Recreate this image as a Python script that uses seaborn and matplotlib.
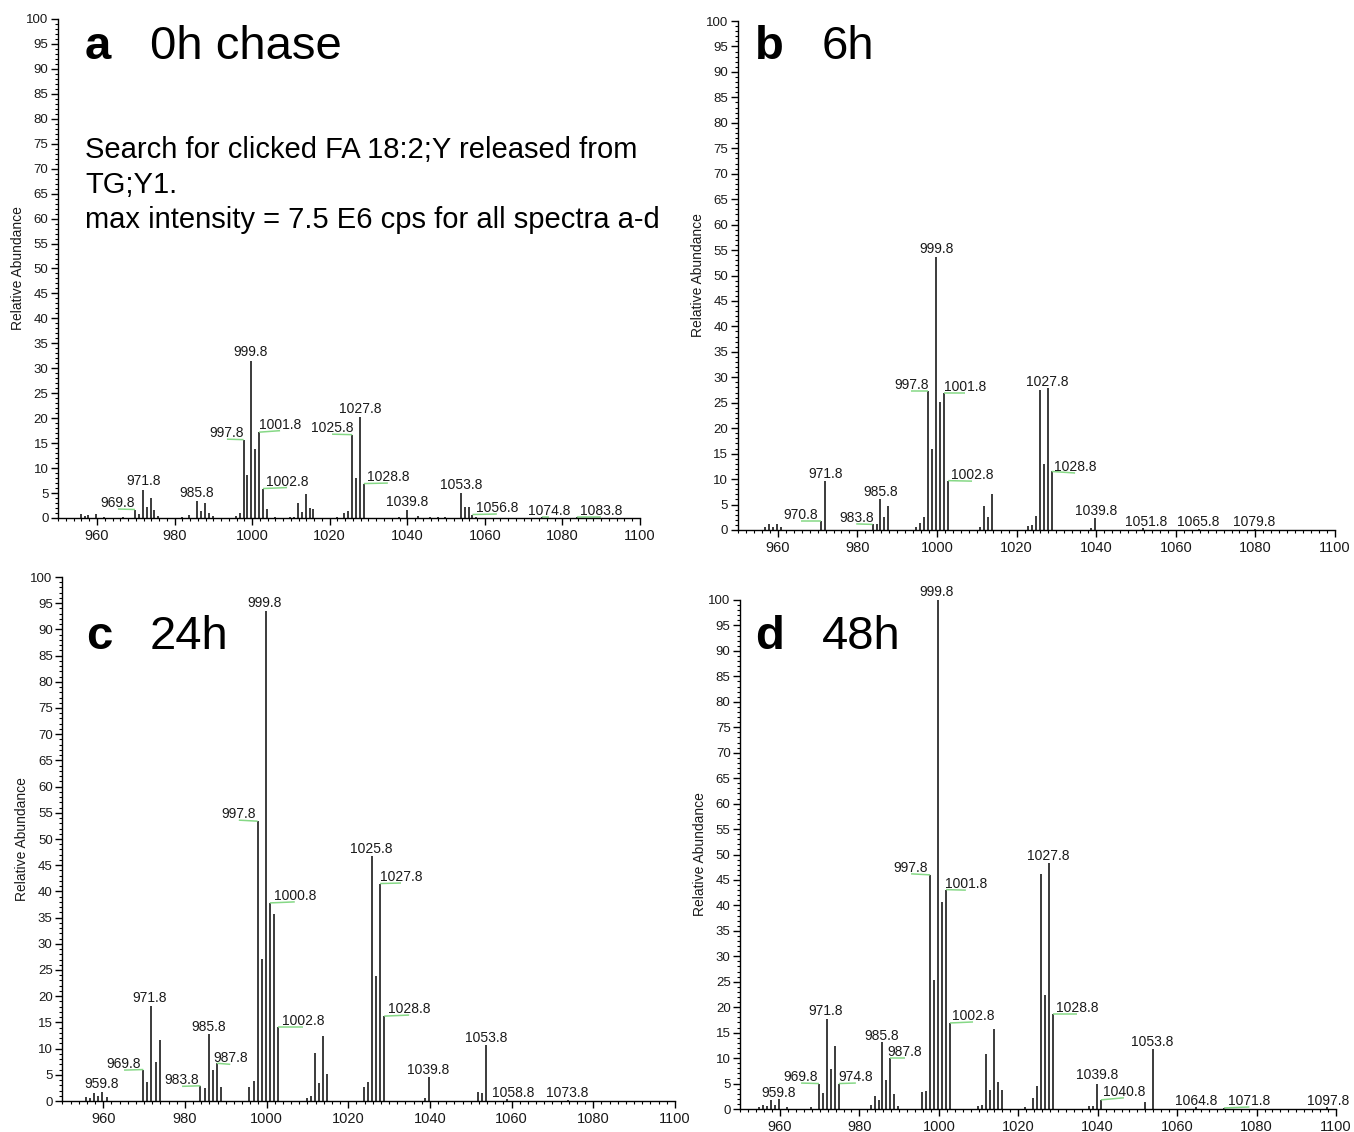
import matplotlib
matplotlib.use("Agg")
import matplotlib.pyplot as plt
from matplotlib.ticker import MultipleLocator
import seaborn as sns

sns.set_theme(style="ticks")
plt.rcParams["font.family"] = ["Liberation Sans", "DejaVu Sans"]

# ---------------- spectra (m/z, relative abundance %) ----------------
mz_a = [955.8, 956.8, 957.8, 959.8, 961.8, 966.8, 969.8, 970.8, 971.8, 972.8,
        973.8, 974.8, 975.8, 981.8, 983.8, 985.8, 986.8, 987.8, 988.8, 989.8,
        995.8, 996.8, 997.8, 998.8, 999.8, 1000.8, 1001.8, 1002.8, 1003.8, 1005.8,
        1009.8, 1010.8, 1011.8, 1012.8, 1013.8, 1014.8, 1015.8, 1021.8, 1023.8, 1024.8,
        1025.8, 1026.8, 1027.8, 1028.8, 1037.8, 1039.8, 1042.8, 1045.8, 1047.8, 1049.8,
        1053.8, 1054.8, 1055.8, 1056.8, 1057.8, 1074.8, 1083.8]
int_a = [0.8, 0.4, 0.6, 0.8, 0.3, 0.3, 1.7, 0.9, 5.7, 2.3,
         4.0, 1.6, 0.5, 0.3, 0.7, 3.5, 1.5, 3.0, 1.1, 0.5,
         0.5, 1.0, 15.7, 8.7, 31.5, 13.8, 17.2, 5.9, 1.8, 0.3,
         0.2, 0.3, 3.0, 1.3, 4.9, 2.1, 1.8, 0.3, 1.1, 1.4,
         16.7, 8.0, 20.2, 6.9, 0.3, 1.7, 0.5, 0.3, 0.3, 0.3,
         5.0, 2.3, 2.2, 0.7, 0.3, 0.3, 0.3]

mz_b = [956.8, 957.8, 958.8, 959.8, 960.8, 970.8, 971.8, 983.8, 984.8, 985.8,
        986.8, 987.8, 994.8, 995.8, 996.8, 997.8, 998.8, 999.8, 1000.8, 1001.8,
        1002.8, 1010.8, 1011.8, 1012.8, 1013.8, 1022.8, 1023.8, 1024.8, 1025.8, 1026.8,
        1027.8, 1028.8, 1038.8, 1039.8, 1051.8, 1065.8, 1079.8]
int_b = [0.5, 1.1, 0.5, 1.2, 0.5, 1.8, 9.7, 1.1, 1.2, 6.1,
         2.6, 4.8, 0.5, 1.4, 2.5, 27.3, 16.0, 53.6, 25.2, 27.0,
         9.7, 0.5, 4.8, 2.5, 7.0, 0.8, 1.0, 2.8, 27.6, 12.9,
         27.8, 11.5, 0.3, 2.4, 0.3, 0.2, 0.2]

mz_c = [955.8, 956.8, 957.8, 958.8, 959.8, 960.8, 969.8, 970.8, 971.8, 972.8,
        973.8, 983.8, 984.8, 985.8, 986.8, 987.8, 988.8, 995.8, 996.8, 997.8,
        998.8, 999.8, 1000.8, 1001.8, 1002.8, 1009.8, 1010.8, 1011.8, 1012.8, 1013.8,
        1014.8, 1023.8, 1024.8, 1025.8, 1026.8, 1027.8, 1028.8, 1038.8, 1039.8, 1051.8,
        1052.8, 1053.8, 1058.8, 1073.8]
int_c = [0.8, 0.6, 1.5, 1.0, 1.7, 0.8, 6.0, 3.7, 18.1, 7.4,
         11.7, 2.9, 2.4, 12.7, 6.0, 7.2, 2.6, 2.6, 3.8, 53.4,
         27.1, 93.5, 37.8, 35.6, 14.1, 0.6, 1.0, 9.2, 3.4, 12.4,
         5.1, 2.7, 3.7, 46.8, 23.9, 41.5, 16.2, 0.5, 4.5, 1.8,
         1.5, 10.6, 0.3, 0.2]

mz_d = [954.8, 955.8, 956.8, 957.8, 958.8, 959.8, 961.8, 967.8, 969.8, 970.8,
        971.8, 972.8, 973.8, 974.8, 982.8, 983.8, 984.8, 985.8, 986.8, 987.8,
        988.8, 989.8, 995.8, 996.8, 997.8, 998.8, 999.8, 1000.8, 1001.8, 1002.8,
        1009.8, 1010.8, 1011.8, 1012.8, 1013.8, 1014.8, 1015.8, 1021.8, 1023.8, 1024.8,
        1025.8, 1026.8, 1027.8, 1028.8, 1037.8, 1038.8, 1039.8, 1040.8, 1051.8, 1053.8,
        1064.8, 1071.8, 1097.8]
int_d = [0.3, 0.7, 0.5, 1.7, 0.7, 1.9, 0.3, 0.3, 5.0, 3.2,
         17.7, 7.8, 12.3, 5.0, 0.7, 2.6, 1.7, 13.1, 5.7, 10.0,
         3.0, 0.5, 3.4, 3.6, 46.0, 25.3, 100.0, 40.6, 43.1, 16.9,
         0.5, 0.7, 10.9, 3.8, 15.7, 5.4, 3.8, 0.3, 2.2, 4.5,
         46.2, 22.3, 48.3, 18.7, 0.5, 0.5, 5.0, 1.8, 1.4, 11.8,
         0.3, 0.2, 0.3]

# ---------------- annotated peaks ----------------
lab_a = [969.8, 971.8, 985.8, 997.8, 999.8, 1001.8, 1002.8, 1025.8, 1027.8,
         1028.8, 1039.8, 1053.8, 1056.8, 1074.8, 1083.8]
lab_b = [970.8, 971.8, 983.8, 985.8, 997.8, 999.8, 1001.8, 1002.8, 1027.8,
         1028.8, 1039.8, 1051.8, 1065.8, 1079.8]
lab_c = [959.8, 969.8, 971.8, 983.8, 985.8, 987.8, 997.8, 999.8, 1000.8,
         1002.8, 1025.8, 1027.8, 1028.8, 1039.8, 1053.8, 1058.8, 1073.8]
lab_d = [959.8, 969.8, 971.8, 974.8, 985.8, 987.8, 997.8, 999.8, 1001.8,
         1002.8, 1027.8, 1028.8, 1039.8, 1040.8, 1053.8, 1064.8, 1071.8, 1097.8]

# label anchor (centre x in m/z, baseline y in %)
lab_pos_a = [(965.4, 2.2), (971.9, 6.6), (985.8, 4.2), (993.5, 16.2), (999.7, 32.4),
             (1007.2, 17.9), (1009.0, 6.5), (1020.6, 17.2), (1027.8, 21.0),
             (1035.0, 7.4), (1039.9, 2.4), (1053.8, 5.8), (1063.1, 1.2),
             (1076.5, 0.7), (1089.9, 0.7)]
lab_pos_b = [(965.8, 2.2), (971.9, 10.2), (979.7, 1.6), (985.9, 6.6), (993.5, 27.7),
             (1000.0, 54.5), (1007.0, 27.4), (1008.8, 10.0), (1027.7, 28.3),
             (1034.7, 11.6), (1040.0, 3.0), (1052.5, 0.8), (1065.6, 0.8), (1079.7, 0.8)]
lab_pos_c = [(959.7, 2.4), (965.1, 6.3), (971.4, 18.8), (979.3, 3.2), (985.7, 13.3),
             (991.1, 7.4), (993.2, 54.0), (999.6, 94.2), (1006.9, 38.4), (1008.9, 14.5),
             (1025.6, 47.4), (1032.9, 42.0), (1034.9, 16.8), (1039.6, 5.1),
             (1053.7, 11.2), (1060.3, 0.8), (1073.5, 0.8)]
lab_pos_d = [(959.7, 2.4), (965.3, 5.5), (971.6, 18.4), (979.1, 5.5), (985.7, 13.6),
             (991.5, 10.4), (993.0, 46.6), (999.5, 100.8), (1006.8, 43.4),
             (1008.6, 17.5), (1027.5, 49.0), (1034.8, 19.1), (1039.9, 5.8),
             (1046.6, 2.6), (1053.7, 12.4), (1064.8, 0.8), (1078.2, 0.8), (1098.0, 0.8)]

panel_letters = ["a", "b", "c", "d"]
panel_titles = ["0h chase", "6h", "24h", "48h"]
note_lines = ["Search for clicked FA 18:2;Y released from",
              "TG;Y1.",
              "max intensity = 7.5 E6 cps for all spectra a-d"]

# ---------------- layout ----------------
W, H = 1354, 1132
fig = plt.figure(figsize=(W / 100, H / 100), dpi=100)
fig.patch.set_facecolor("white")

# axes rectangles in pixels: left, right, top(y=100), bottom(y=0)
rects_px = [(58.2, 640.0, 19, 518),
            (738.0, 1335.0, 21, 530),
            (62.4, 675.0, 577, 1101),
            (740.3, 1336.0, 600, 1109)]
# title positions (axes fraction): letter x, word x, y
title_pos = [(0.046, 0.158, 0.944),
             (0.0285, 0.1407, 0.949),
             (0.0385, 0.143, 0.885),
             (0.0247, 0.137, 0.927)]

spectra = [(mz_a, int_a, lab_a, lab_pos_a),
           (mz_b, int_b, lab_b, lab_pos_b),
           (mz_c, int_c, lab_c, lab_pos_c),
           (mz_d, int_d, lab_d, lab_pos_d)]

INK = "#1a1a1a"
LEADER = "#86d886"

for i, (mz, inten, labs, pos) in enumerate(spectra):
    l, r, t, b = rects_px[i]
    ax = fig.add_axes([l / W, 1 - b / H, (r - l) / W, (b - t) / H])
    ax.set_facecolor("white")
    ax.vlines(mz, 0, inten, color=INK, lw=1.2)
    ax.set_xlim(950, 1100)
    ax.set_ylim(0, 100)
    sns.despine(ax=ax)
    for side in ("left", "bottom"):
        ax.spines[side].set_color("black")
        ax.spines[side].set_linewidth(1.0)
    ax.grid(False)

    ax.xaxis.set_major_locator(MultipleLocator(20))
    ax.xaxis.set_minor_locator(MultipleLocator(2))
    ax.yaxis.set_major_locator(MultipleLocator(5))
    ax.yaxis.set_minor_locator(MultipleLocator(1))
    ax.tick_params(axis="both", which="major", direction="out", length=5,
                   width=1.0, color="black", labelcolor=INK)
    ax.tick_params(axis="both", which="minor", direction="out", length=2.5,
                   width=0.8, color="black")
    ax.tick_params(axis="x", which="major", labelsize=10.5, pad=3)
    ax.tick_params(axis="y", which="major", labelsize=9.5, pad=2)
    ax.set_ylabel("Relative Abundance", fontsize=10, color=INK, labelpad=1)

    # peak annotations with leader lines for displaced labels
    lookup = dict(zip(mz, inten))
    for m, (lx, ly) in zip(labs, pos):
        ax.text(lx, ly, f"{m:.1f}", ha="center", va="baseline",
                fontsize=10, color=INK, clip_on=False)
        if abs(lx - m) > 1.5:
            ax.plot([m, lx], [lookup[m], ly - 0.4], color=LEADER, lw=1.1,
                    solid_capstyle="butt", clip_on=False)

    lxp, wxp, yp = title_pos[i]
    ax.text(lxp, yp, panel_letters[i], transform=ax.transAxes, ha="left",
            va="center", fontsize=34, fontweight="bold", color="black")
    ax.text(wxp, yp, panel_titles[i], transform=ax.transAxes, ha="left",
            va="center", fontsize=34, color="black")

    if i == 0:
        for k, line in enumerate(note_lines):
            ypx = 150 + 35 * k
            ax.text((85 - l) / (r - l), (b - ypx) / (b - t), line,
                    transform=ax.transAxes, ha="left", va="center",
                    fontsize=21, color="black")

fig.savefig("out.png", dpi=100, facecolor="white")
